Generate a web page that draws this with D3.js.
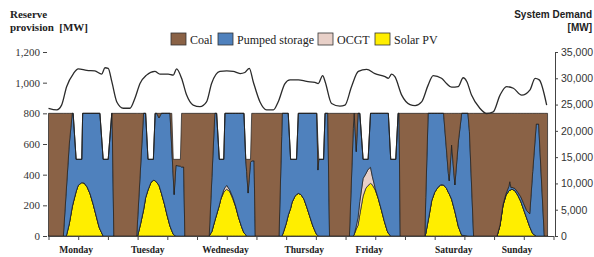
<!DOCTYPE html>
<html>
<head>
<meta charset="utf-8">
<script src="https://cdnjs.cloudflare.com/ajax/libs/d3/7.8.5/d3.min.js"></script>
<style>
  body { margin: 0; background: #fff; }
  svg { display: block; }
</style>
</head>
<body>
<svg id="chart" width="594" height="257"></svg>
<script>
var SERIF = '"Liberation Serif", "DejaVu Serif", serif';
var SANS = '"Liberation Sans", Arial, sans-serif';

// reserve provision, one shared time grid (hours from Monday 00:00)
var hours = [
  0, 5, 6, 7, 8, 8.3, 9.3, 10, 11.2, 11.5, 12, 13, 14, 15, 16, 17, 17.3, 18.4, 20.1, 21.3, 21.4, 22,
  29.7, 30, 31, 32, 32.7, 33.5, 34.5, 35.3, 35.9, 36.4, 37.2, 38, 39, 40, 40.9, 41.5, 42, 42.3, 42.9, 44.4, 44.8, 45.5, 45.9,
  54.1, 55, 56, 56.6, 57.5, 58, 59, 59.4, 60, 61, 62, 63, 64, 65, 65.8, 66.4, 66.7, 67.2, 68, 68.4, 69.2, 69.6,
  77.6, 78.5, 78.7, 79, 80, 80.7, 81.5, 82, 83, 83.5, 84.1, 85, 86, 87, 88, 89, 90, 90.3, 90.7, 91, 92.6, 93.1, 94, 94.6,
  101.3, 102.6, 102.9, 103.6, 104.2, 104.8, 105.9, 106.8, 107.6, 108.4, 109, 110, 111, 112, 113, 114, 114.4, 115.2, 116.9, 117.7, 118, 118.4,
  126.7, 127, 127.8, 128, 129, 130, 131, 132, 133, 134, 134.6, 134.9, 135.7, 136.8, 138, 139.1, 141.2, 141.7, 143.1,
  151, 152, 153, 154, 155, 155.3, 155.7, 156, 157, 158, 159, 160, 161, 162, 163, 164.2, 165, 166.9, 168
];
var solar = [
  0, 0, 0, 80, 190, 215, 290, 330, 348, 347, 345, 320, 275, 210, 135, 60, 45, 0, 0, 0, 0, 0,
  0, 0, 80, 170, 250, 300, 350, 363, 361, 350, 330, 280, 210, 130, 65, 35, 12, 5, 0, 0, 0, 0, 0,
  0, 30, 100, 140, 200, 240, 285, 295, 305, 290, 245, 190, 120, 60, 20, 8, 0, 0, 0, 0, 0, 0,
  0, 0, 5, 20, 80, 135, 180, 220, 260, 270, 278, 270, 240, 185, 125, 65, 20, 10, 2, 0, 0, 0, 0, 0,
  0, 0, 10, 45, 70, 140, 260, 310, 330, 343, 335, 300, 245, 175, 100, 35, 18, 0, 0, 0, 0, 0,
  0, 15, 100, 120, 230, 285, 315, 330, 333, 310, 285, 275, 240, 160, 60, 5, 0, 0, 0,
  0, 70, 200, 265, 295, 298, 302, 306, 295, 265, 225, 170, 115, 60, 15, 0, 0, 0, 0
];
var ocgt = [
  0, 0, 0, 0, 0, 0, 0, 0, 0, 0, 0, 0, 0, 0, 0, 0, 0, 0, 0, 0, 0, 0,
  0, 0, 0, 0, 0, 0, 0, 0, 0, 0, 0, 0, 0, 0, 0, 0, 0, 0, 0, 0, 0, 0, 0,
  0, 0, 0, 0, 0, 0, 15, 20, 25, 10, 10, 5, 0, 0, 0, 0, 0, 0, 0, 0, 0, 0,
  0, 0, 0, 0, 0, 0, 0, 0, 0, 0, 0, 0, 0, 0, 0, 0, 0, 0, 0, 0, 0, 0, 0, 0,
  0, 0, 0, 20, 50, 85, 115, 95, 105, 105, 55, 10, 0, 0, 0, 0, 0, 0, 0, 0, 0, 0,
  0, 0, 0, 0, 0, 0, 0, 5, 0, 0, 0, 0, 0, 0, 0, 0, 0, 0, 0,
  0, 0, 0, 0, 0, 0, 0, 0, 0, 0, 0, 0, 0, 0, 0, 0, 0, 0, 0
];
var pumped = [
  0, 0, 300, 520, 610, 585, 210, 170, 152, 453, 455, 480, 525, 590, 665, 740, 755, 500, 500, 800, 800, 0,
  0, 105, 370, 630, 550, 200, 150, 137, 439, 450, 440, 520, 590, 670, 735, 538, 372, 265, 460, 455, 450, 450, 0,
  0, 350, 700, 660, 300, 260, 200, 485, 470, 500, 545, 605, 680, 740, 780, 492, 420, 280, 480, 490, 490, 0,
  0, 650, 795, 780, 720, 665, 320, 280, 240, 230, 522, 530, 560, 615, 675, 735, 780, 790, 428, 500, 500, 800, 800, 0,
  0, 700, 790, 485, 680, 575, 125, 95, 65, 352, 410, 490, 555, 625, 700, 765, 782, 500, 500, 800, 800, 0,
  0, 235, 700, 680, 570, 515, 485, 465, 467, 245, 124, 85, 353, 173, 560, 795, 800, 680, 0,
  0, 2, 5, 10, 30, 56, 13, 12, 15, 20, 30, 40, 50, 85, 405, 730, 730, 0, 0
];
var coal = [
  800, 800, 500, 200, 0, 0, 0, 0, 0, 0, 0, 0, 0, 0, 0, 0, 0, 0, 0, 0, 0, 800,
  800, 695, 350, 0, 0, 0, 0, 0, 0, 0, 30, 0, 0, 0, 0, 227, 116, 230, 40, 45, 350, 350, 800,
  800, 420, 0, 0, 0, 0, 0, 0, 0, 0, 0, 0, 0, 0, 0, 0, 80, 220, 20, 310, 310, 800,
  800, 150, 0, 0, 0, 0, 0, 0, 0, 0, 0, 0, 0, 0, 0, 0, 0, 0, 190, 0, 0, 0, 0, 800,
  800, 100, 0, 250, 0, 0, 0, 0, 0, 0, 0, 0, 0, 0, 0, 0, 0, 0, 0, 0, 0, 800,
  800, 550, 0, 0, 0, 0, 0, 0, 0, 245, 391, 440, 207, 467, 180, 0, 0, 120, 800,
  800, 728, 595, 525, 475, 446, 485, 482, 490, 515, 545, 590, 635, 655, 380, 70, 70, 800, 800
];

// system demand (right axis)
var demandHours = [0, 2.8, 4.4, 6.1, 8.4, 10, 12.9, 15.6, 17.9, 19, 20.1, 21.3, 23, 25.2, 27.4, 29.1, 30.8, 33, 35.8, 37.5,
  40.3, 42, 43.1, 44.8, 46.5, 48.7, 51, 53.2, 54.9, 57.7, 60, 62.2, 64.5, 66.1, 67.6, 68.9, 71.2, 73.4, 75.7, 77.3,
  79.6, 81.3, 84.1, 86.9, 89.7, 90.8, 92.3, 93.1, 95.3, 98.1, 99.8, 102, 104.3, 107.1, 109.9, 113.3, 114.4, 115.5, 116.6, 118.9,
  121.7, 123.4, 125.6, 127.8, 129.5, 132.3, 134, 135.7, 137.9, 139.6, 140.8, 142.4, 145.2, 147.5, 149.7, 152, 154.2, 156.5, 159.3, 162.1,
  163.8, 165.2, 167.7];
var demandMW = [24300, 24000, 24900, 28400, 30900, 31800, 31500, 31400, 30800, 32000, 31900, 29400, 25500, 24300, 24300, 26200, 29000, 30600, 31300, 30800,
  30800, 30600, 31800, 30000, 26800, 24900, 24600, 25500, 29000, 31300, 31400, 31300, 30900, 31100, 31900, 29400, 25500, 24000, 24000, 25500,
  29000, 29700, 29700, 29400, 29200, 29000, 30500, 29400, 25200, 24700, 24900, 28400, 31300, 31700, 30900, 30300, 30000, 30800, 30300, 26800,
  25000, 24800, 25500, 28700, 30500, 30000, 29000, 28300, 28400, 30100, 29400, 26800, 24300, 23300, 23600, 26800, 28400, 28100, 26800, 27800,
  30000, 29700, 24900];

var seriesKeys = ['solar', 'ocgt', 'pumped', 'coal'];
var seriesColors = {coal: '#8a6246', pumped: '#4f81bd', ocgt: '#e8d0c8', solar: '#ffee00'};
var legendKeys = ['coal', 'pumped', 'ocgt', 'solar'];
var legendNames = ['Coal', 'Pumped storage', 'OCGT', 'Solar PV'];
var dayNames = ['Monday', 'Tuesday', 'Wednesday', 'Thursday', 'Friday', 'Saturday', 'Sunday'];
var dayLabelHours = [9.3, 33.4, 59.6, 86.1, 108, 136.4, 157.7];
var leftTicks = [0, 200, 400, 600, 800, 1000, 1200];
var rightTicks = [0, 5000, 10000, 15000, 20000, 25000, 30000, 35000];

var svg = d3.select('#chart');

var x = d3.scaleLinear().domain([0, 170]).range([48.5, 553.5]);
var yL = d3.scaleLinear().domain([0, 1200]).range([236, 52]);
var yR = d3.scaleLinear().domain([0, 35000]).range([236, 52]);

var rows = hours.map(function (h, i) {
    return {h: h, solar: solar[i], ocgt: ocgt[i], pumped: pumped[i], coal: coal[i]};
});
var layers = d3.stack().keys(seriesKeys)(rows);

var area = d3.area()
    .x(function (d) { return x(d.data.h); })
    .y0(function (d) { return yL(d[0]); })
    .y1(function (d) { return yL(d[1]); });

svg.append('g').selectAll('path')
    .data(layers)
    .enter().append('path')
    .attr('d', area)
    .style('fill', function (d) { return seriesColors[d.key]; })
    .style('stroke', '#1e1e1e')
    .style('stroke-width', 0.7)
    .style('stroke-linejoin', 'round');

// demand line
var demandLine = d3.line()
    .x(function (d, i) { return x(demandHours[i]); })
    .y(function (d) { return yR(d); })
    .curve(d3.curveMonotoneX);

svg.append('path')
    .attr('d', demandLine(demandMW))
    .style('fill', 'none')
    .style('stroke', '#2b2b2b')
    .style('stroke-width', 1.3);

// x axis
var xAxis = svg.append('g')
    .attr('transform', 'translate(0,236)')
    .call(d3.axisBottom(x).tickValues(d3.range(0, 171, 10)).tickFormat('').tickSize(4).tickSizeOuter(0));
xAxis.select('.domain').style('stroke', '#444');
xAxis.selectAll('.tick line').style('stroke', '#444');

svg.append('g').selectAll('text')
    .data(dayNames)
    .enter().append('text')
    .attr('x', function (d, i) { return x(dayLabelHours[i]); })
    .attr('y', 253)
    .attr('text-anchor', 'middle')
    .style('font-family', SERIF)
    .style('font-size', '9.5px')
    .style('font-weight', 'bold')
    .style('fill', '#222')
    .text(function (d) { return d; });

// left axis
var leftAxis = svg.append('g')
    .attr('transform', 'translate(47,0)')
    .call(d3.axisLeft(yL).tickValues(leftTicks).tickSize(4).tickFormat(d3.format(',')));
leftAxis.select('.domain').remove();
leftAxis.selectAll('.tick line').style('stroke', '#444');
leftAxis.selectAll('text')
    .style('font-family', SERIF)
    .style('font-size', '11px')
    .style('fill', '#333');

// right axis
var rightAxis = svg.append('g')
    .attr('transform', 'translate(555,0)')
    .call(d3.axisRight(yR).tickValues(rightTicks).tickSize(3).tickSizeOuter(3).tickFormat(d3.format(',')));
rightAxis.select('.domain').style('stroke', '#444');
rightAxis.selectAll('.tick line').style('stroke', '#444');
rightAxis.selectAll('text')
    .style('font-family', SANS)
    .style('font-size', '10.5px')
    .style('fill', '#333');

// titles
svg.append('text').attr('x', 10).attr('y', 18)
    .style('font-family', SERIF).style('font-size', '11px').style('font-weight', 'bold').style('fill', '#222')
    .text('Reserve');
svg.append('text').attr('x', 10).attr('y', 31)
    .style('font-family', SERIF).style('font-size', '11px').style('font-weight', 'bold').style('fill', '#222')
    .style('white-space', 'pre')
    .text('provision  [MW]');
svg.append('text').attr('x', 592).attr('y', 18)
    .attr('text-anchor', 'end')
    .style('font-family', SANS).style('font-size', '10px').style('font-weight', 'bold').style('fill', '#222')
    .text('System Demand');
svg.append('text').attr('x', 592).attr('y', 31)
    .attr('text-anchor', 'end')
    .style('font-family', SANS).style('font-size', '10px').style('font-weight', 'bold').style('fill', '#222')
    .text('[MW]');

// legend
var legendX = [171, 218, 318, 375];
var legend = svg.append('g').selectAll('g')
    .data(legendKeys)
    .enter().append('g')
    .attr('transform', function (d, i) { return 'translate(' + legendX[i] + ',33)'; });
legend.append('rect')
    .attr('width', 15).attr('height', 12)
    .style('fill', function (d) { return seriesColors[d]; })
    .style('stroke', '#333').style('stroke-width', 0.8);
legend.append('text')
    .attr('x', 19).attr('y', 11)
    .style('font-family', SERIF)
    .style('font-size', '12px').style('fill', '#222')
    .text(function (d, i) { return legendNames[i]; });
</script>
</body>
</html>
